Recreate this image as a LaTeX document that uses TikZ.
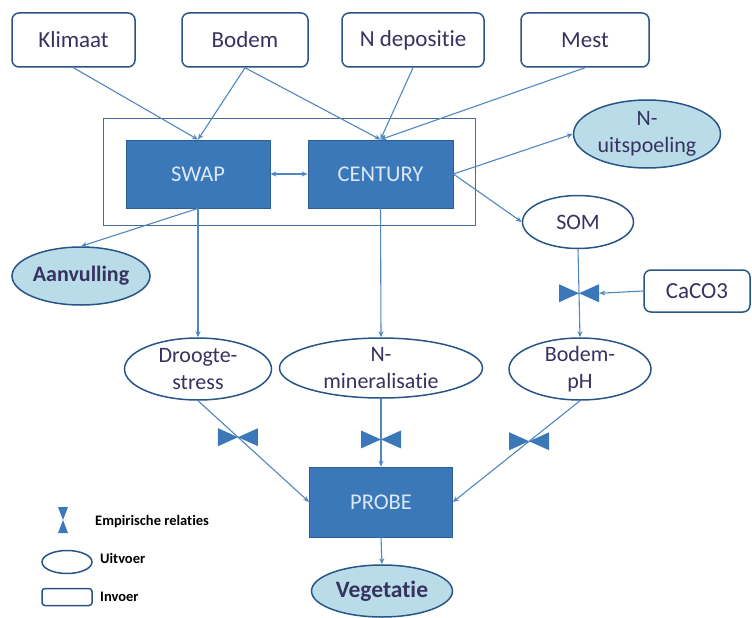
\documentclass[tikz,border=0pt]{standalone}
\usepackage{fontspec}
\setmainfont{Carlito}[Ligatures=NoCommon]
\usetikzlibrary{arrows.meta, shapes.geometric, positioning, calc}
\definecolor{modelblauw}{RGB}{59,120,186}
\definecolor{modelrand}{RGB}{45,95,150}
\definecolor{modeltekst}{RGB}{218,232,246}
\definecolor{randblauw}{RGB}{40,85,135}
\definecolor{lichtblauw}{RGB}{185,220,232}
\definecolor{lijnblauw}{RGB}{80,135,192}
\definecolor{tekstpaars}{RGB}{55,50,95}
\definecolor{kaderblauw}{RGB}{70,105,155}

\begin{document}
\begin{tikzpicture}[x=1pt, y=-1pt,
    invoer/.style={draw=randblauw, line width=1.5pt, rounded corners=7pt, fill=white, minimum height=54pt, text=tekstpaars, font=\fontsize{23}{27}\selectfont},
    model/.style={draw=modelrand, line width=0.8pt, fill=modelblauw, text=modeltekst, minimum width=144pt, minimum height=68pt, font=\fontsize{22.5}{27}\selectfont},
    uitvoer/.style={ellipse, draw=randblauw, line width=1.5pt, fill=white, align=center, inner xsep=0pt, inner ysep=-16pt, text=tekstpaars, font=\fontsize{22}{27}\selectfont},
    uitvoerlicht/.style={uitvoer, fill=lichtblauw},
    pijl/.style={draw=lijnblauw, line width=1.1pt, -{Stealth[length=6pt,width=5pt]}},
    vlinder/.style={minimum width=40pt, minimum height=18pt, inner sep=0pt,
        path picture={\fill[modelblauw] (path picture bounding box.north west) -- (path picture bounding box.center) -- (path picture bounding box.south west) -- cycle
            (path picture bounding box.north east) -- (path picture bounding box.center) -- (path picture bounding box.south east) -- cycle;}},
    zandloper/.style={minimum width=10pt, minimum height=26pt, inner sep=0pt,
        path picture={\fill[modelblauw] (path picture bounding box.north west) -- (path picture bounding box.center) -- (path picture bounding box.north east) -- cycle
            (path picture bounding box.south west) -- (path picture bounding box.center) -- (path picture bounding box.south east) -- cycle;}},
    legtekst/.style={anchor=west, inner sep=0pt, text=black, font=\fontsize{14.5}{16}\selectfont\bfseries}]
    \useasboundingbox (0,0) rectangle (752,618);
    % Invoer
    \node[invoer, minimum width=123pt] (klimaat) at (73.5,40) {Klimaat};
    \node[invoer, minimum width=126pt] (bodem) at (245,40) {Bodem};
    \node[invoer, minimum width=142pt] (ndep) at (413,40) {N depositie};
    \node[invoer, minimum width=128pt] (mest) at (585,40) {Mest};
    \node[invoer, minimum width=106pt, minimum height=42pt] (caco) at (697,291) {CaCO3};
    % Modellen
    \node[draw=kaderblauw, line width=0.8pt, minimum width=372pt, minimum height=107pt] (kader) at (289,171.5) {};
    \node[model] (swap) at (198,174) {SWAP};
    \node[model, minimum width=145pt] (century) at (380.5,174) {CENTURY};
    \node[model, minimum width=143pt, minimum height=70pt] (probe) at (381,502) {PROBE};
    % Uitvoer
    \node[uitvoerlicht, minimum width=147pt, minimum height=68pt] (uitsp) at (647,134) {N-\\uitspoeling};
    \node[uitvoer, minimum width=111pt, minimum height=53pt] (som) at (578,222) {SOM};
    \node[uitvoerlicht, minimum width=138pt, minimum height=58pt, font=\fontsize{22}{27}\selectfont\bfseries] (aanv) at (81,276) {Aanvulling};
    \node[uitvoer, minimum width=147pt, minimum height=62pt] (droogte) at (198,369) {Droogte-\\stress};
    \node[uitvoer, minimum width=203pt, minimum height=60pt] (nmin) at (381,368) {N-\\mineralisatie};
    \node[uitvoer, minimum width=142pt, minimum height=62pt] (bodemph) at (580,369) {Bodem-\\pH};
    \node[uitvoerlicht, minimum width=141pt, minimum height=52pt, font=\fontsize{23.5}{27}\selectfont\bfseries] (veg) at (382,591) {Vegetatie};
    % Verbindingen
    \draw[pijl] (klimaat.south) -- (swap.north);
    \draw[pijl] (bodem.south) -- (swap.north);
    \draw[pijl] (bodem.south) -- (century.north);
    \draw[pijl] (ndep.south) -- (century.north);
    \draw[pijl] (mest.south) -- (century.north);
    \draw[pijl, {Stealth[length=6pt,width=5pt]}-{Stealth[length=6pt,width=5pt]}] (swap.east) -- (century.west);
    \draw[pijl] (century.east) -- (uitsp.west);
    \draw[pijl] (century.east) -- (som.west);
    \draw[pijl] (swap.south) -- (aanv.north);
    \draw[pijl] (swap.south) -- (droogte.north);
    \draw[pijl] (century.south) -- (nmin.north);
    \draw[pijl] (som.south) -- (bodemph.north);
    \draw[pijl] (droogte.south) -- (probe.west);
    \draw[pijl] (nmin.south) -- (probe.north);
    \draw[pijl] (bodemph.south) -- (probe.east);
    \draw[pijl] (probe.south) -- (veg.north);
    % Empirische relaties
    \node[vlinder] (k1) at ($(droogte.south)!0.36!(probe.west)$) {};
    \node[vlinder] (k2) at ($(nmin.south)!0.6!(probe.north)$) {};
    \node[vlinder] (k3) at ($(bodemph.south)!0.4!(probe.east)$) {};
    \node[vlinder] (k4) at ($(som.south)!0.5!(bodemph.north)$) {};
    \draw[pijl] (caco.west) -- (k4.east);
    % Legenda
    \node[zandloper] (leg1) at (63,520) {};
    \node[legtekst] (legt1) at (95,522) {Empirische relaties};
    \node[ellipse, draw=randblauw, line width=1.5pt, minimum width=50pt, minimum height=23pt, inner sep=0pt] (leg2) at (67,562) {};
    \node[legtekst] (legt2) at (100,558) {Uitvoer};
    \node[draw=randblauw, line width=1.5pt, rounded corners=3pt, minimum width=50pt, minimum height=17pt, inner sep=0pt] (leg3) at (67,597) {};
    \node[legtekst] (legt3) at (100,597) {Invoer};
\end{tikzpicture}
\end{document}
